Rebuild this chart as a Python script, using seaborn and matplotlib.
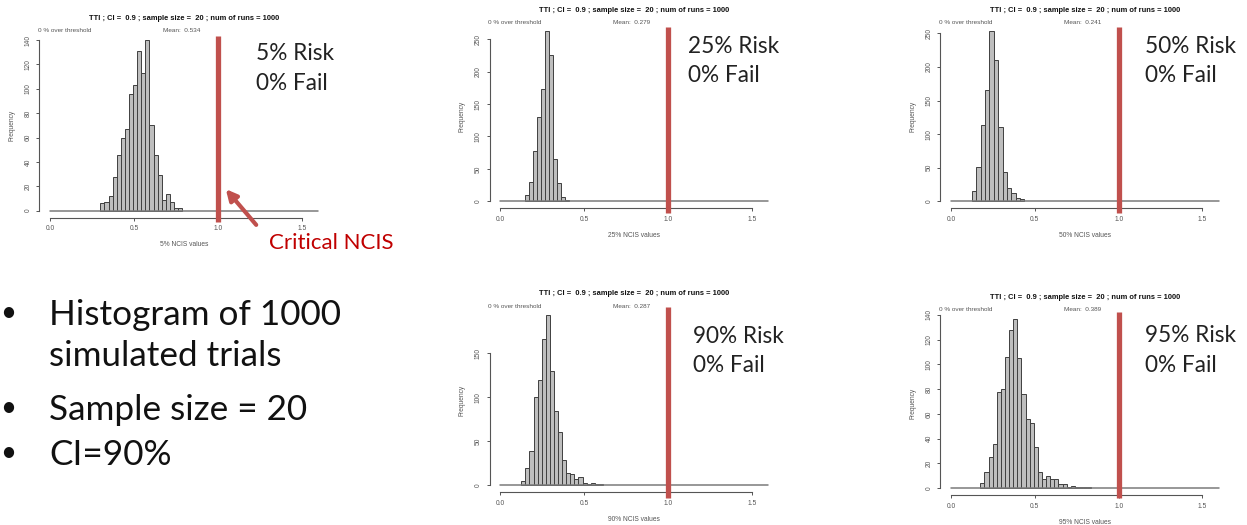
import numpy as np
import pandas as pd
import matplotlib
matplotlib.use("Agg")
import matplotlib.pyplot as plt
import matplotlib.transforms as mtransforms
import matplotlib.patches as mpatches
import seaborn as sns

# ---- data: NCIS histograms of 1000 simulated trials (counts per 0.025 bin) ----
risk_levels = ["5%", "25%", "50%", "90%", "95%"]
fail_rates = ["0%", "0%", "0%", "0%", "0%"]
over_threshold = [0, 0, 0, 0, 0]
mean_values = [0.534, 0.279, 0.241, 0.287, 0.389]
bin_width = 0.025
first_edge = [0.300, 0.150, 0.125, 0.125, 0.175]

counts_5 = [6, 7, 12, 28, 46, 60, 67, 96, 103, 131, 113, 140, 70, 46, 29, 9, 14, 7, 2, 2]
counts_25 = [9, 30, 77, 130, 174, 262, 226, 65, 28, 7, 2]
counts_50 = [16, 51, 114, 165, 253, 211, 110, 43, 20, 13, 5, 2, 2]
counts_90 = [5, 20, 39, 100, 119, 166, 193, 130, 84, 60, 29, 14, 13, 7, 9, 3, 1, 3, 1, 1]
counts_95 = [4, 13, 25, 36, 78, 80, 106, 128, 137, 105, 76, 56, 53, 33, 13, 7, 10, 7, 7,
             3, 3, 1, 2, 1, 1, 1, 1]
all_counts = [counts_5, counts_25, counts_50, counts_90, counts_95]

y_ticks = [
    [0, 20, 40, 60, 80, 100, 120, 140],
    [0, 50, 100, 150, 200, 250],
    [0, 50, 100, 150, 200, 250],
    [0, 50, 100, 150],
    [0, 20, 40, 60, 80, 100, 120, 140],
]
x_ticks = [0.0, 0.5, 1.0, 1.5]
x_tick_labels = ["0.0", "0.5", "1.0", "1.5"]
x_limit = 1.6
critical_ncis = 1.0
plot_title = "TTI ; CI =  0.9 ; sample size =  20 ; num of runs = 1000"
bullet_lines = ["Histogram of 1000", "simulated trials", "Sample size = 20", "CI=90%"]
bullet_marks = [True, False, True, True]
callout = "Critical NCIS"

# ---- layout (figure pixels, origin top-left) ----
W, H = 1247, 525
panel_box = [  # left, top, right, bottom of each plot region
    (39.3, 33.2, 329.2, 217.5),
    (489.6, 24.7, 779.2, 208.1),
    (940.3, 24.5, 1229.9, 208.1),
    (489.6, 308.3, 779.2, 492.1),
    (940.3, 311.9, 1229.9, 494.8),
]
red_span = [(36, 222), (27, 213), (27, 213), (307, 498), (312, 498)]
label_pos = [(256, 60, 90), (688, 53, 82), (1145, 53, 82), (693, 343, 372), (1145, 342, 372)]

sns.set_theme(style="white")
plt.rcParams["font.family"] = ["Liberation Sans", "DejaVu Sans"]

R_GREY = "#555555"
RED = "#C0504D"
SLIDE_FONT = ["Lato", "DejaVu Sans"]
R_SMALL = 4.8

fig = plt.figure(figsize=(W / 100, H / 100), dpi=100)
fig.patch.set_facecolor("white")


def fx(px):
    return px / W


def fy(py):
    return 1 - py / H


for i, counts in enumerate(all_counts):
    l, t, r, b = panel_box[i]
    ax = fig.add_axes([fx(l), fy(b), fx(r) - fx(l), fy(t) - fy(b)])
    ax.set_facecolor("white")

    n = len(counts)
    edges = first_edge[i] + bin_width * np.arange(n + 1)
    hist_df = pd.DataFrame({"ncis": (edges[:-1] + edges[1:]) / 2, "freq": counts})
    sns.histplot(data=hist_df, x="ncis", weights="freq", binwidth=bin_width,
                 binrange=(edges[0], edges[-1] - bin_width / 2), ax=ax, stat="count",
                 color="#BEBEBE", edgecolor="#404040", linewidth=0.7, alpha=1.0)

    ymax = max(counts)
    ax.set_xlim(-0.04 * x_limit, 1.04 * x_limit)
    ax.set_ylim(-0.04 * ymax, 1.04 * ymax)

    # baseline of the histogram
    ax.plot([0, x_limit], [0, 0], color="#7a7a7a", lw=1.1, zorder=1)

    # R-style detached axes
    for side in ["top", "right"]:
        ax.spines[side].set_visible(False)
    ax.spines["left"].set_bounds(y_ticks[i][0], y_ticks[i][-1])
    ax.spines["bottom"].set_bounds(x_ticks[0], x_ticks[-1])
    for side in ["left", "bottom"]:
        ax.spines[side].set_color(R_GREY)
        ax.spines[side].set_linewidth(0.8)
    ax.set_xticks(x_ticks)
    ax.set_xticklabels(x_tick_labels)
    ax.set_yticks(y_ticks[i])
    ax.set_yticklabels([str(v) for v in y_ticks[i]], rotation=90, va="center")
    ax.tick_params(axis="both", direction="out", length=2.5, width=0.7, color=R_GREY,
                   labelsize=R_SMALL, labelcolor=R_GREY, pad=3.2, left=True, bottom=True)
    ax.set_xlabel(f"{risk_levels[i]} NCIS values", fontsize=R_SMALL, color=R_GREY,
                  labelpad=6.5)
    ax.set_ylabel("Frequency", fontsize=R_SMALL, color=R_GREY, labelpad=6.5)

    ax.text(0.5, 1.078, plot_title, transform=ax.transAxes, ha="center", va="center",
            fontsize=5.4, fontweight="bold", color="#111111")
    ax.text(-0.005, 1.012, f"{over_threshold[i]} % over threshold", transform=ax.transAxes,
            ha="left", va="center", fontsize=4.6, color=R_GREY)
    ax.text(0.49, 1.012, f"Mean:  {mean_values[i]:.3f}", transform=ax.transAxes,
            ha="center", va="center", fontsize=4.6, color=R_GREY)

    # critical NCIS marker
    trans = mtransforms.blended_transform_factory(ax.transData, fig.transFigure)
    y0, y1 = red_span[i]
    ax.plot([critical_ncis, critical_ncis], [fy(y1), fy(y0)], transform=trans,
            color=RED, lw=3.8, solid_capstyle="butt", clip_on=False, zorder=5)

    # risk / fail labels
    lx, by1, by2 = label_pos[i]
    fig.text(fx(lx), fy(by1), f"{risk_levels[i]} Risk", fontsize=16.3, family=SLIDE_FONT,
             color="#222222", ha="left", va="baseline")
    fig.text(fx(lx), fy(by2), f"{fail_rates[i]} Fail", fontsize=16.3, family=SLIDE_FONT,
             color="#222222", ha="left", va="baseline")

# callout for the critical value
fig.text(fx(269), fy(249), callout, fontsize=16, family=SLIDE_FONT, color="#C00000",
         ha="left", va="baseline")
fig.add_artist(mpatches.FancyArrowPatch(
    (fx(258), fy(227)), (fx(224), fy(187)), transform=fig.transFigure,
    arrowstyle="-|>", mutation_scale=16, lw=3, color=RED))

# bullet list
bullet_base = [325, 366, 420, 465]
for line, mark, yb in zip(bullet_lines, bullet_marks, bullet_base):
    fig.text(fx(49), fy(yb), line, fontsize=25.3, family=SLIDE_FONT, color="#111111",
             ha="left", va="baseline")
    if mark:
        fig.text(fx(0), fy(yb - 4), "\u2022", fontsize=20, family=SLIDE_FONT,
                 color="#111111", ha="left", va="baseline")

fig.savefig("out.png", dpi=100, facecolor="white")
